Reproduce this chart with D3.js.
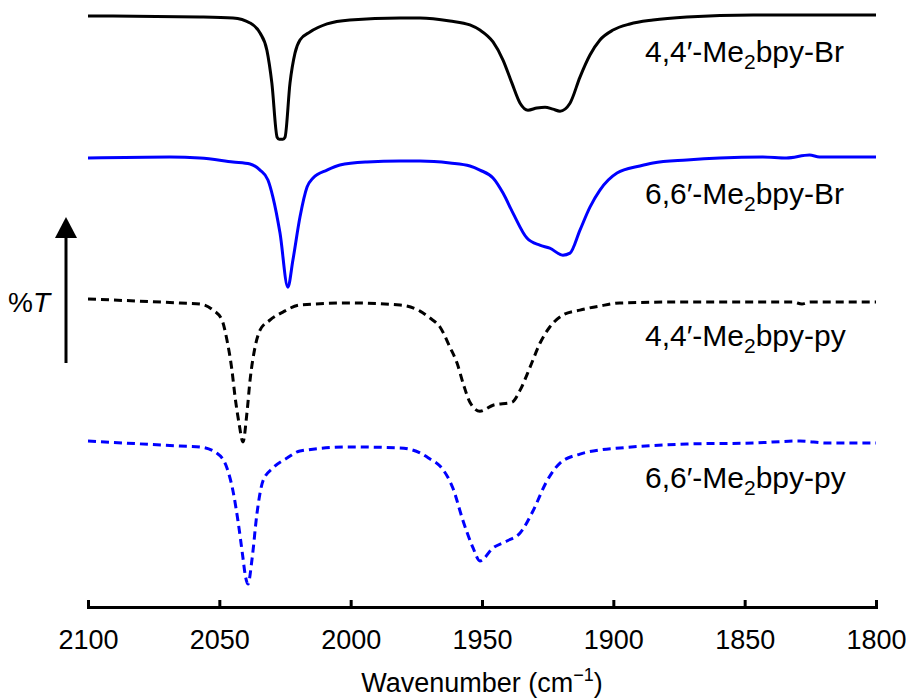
<!DOCTYPE html>
<html>
<head>
<meta charset="utf-8">
<script src="https://cdn.jsdelivr.net/npm/d3@7"></script>
<style>
  body { margin: 0; background: #fff; }
  svg text { font-family: "Liberation Sans", Arial, sans-serif; fill: #000; }
</style>
</head>
<body>
<svg id="chart" width="906" height="698"></svg>
<script>
// wavenumber (cm-1) and relative %T, one pair of arrays per trace
const wnMe44Br = [2100, 2057.4, 2044.8, 2038.3, 2034.5, 2031.9, 2030.0, 2028.0, 2027.2, 2025.8, 2025.0, 2023.1, 2021.2, 2019.3, 2015.5, 2009.0, 2000.3, 1981.2, 1973.6, 1962.2, 1954.6, 1950.8, 1945.8, 1942.0, 1938.6, 1935.5, 1932.5, 1929.1, 1926.0, 1923.0, 1920.3, 1916.5, 1912.7, 1908.9, 1905.1, 1900.1, 1893.7, 1884.9, 1872.0, 1846.8, 1800]
const tMe44Br = [100, 99.3, 98.6, 95.1, 88.0, 76.0, 52.7, 14.6, 13.2, 13.2, 14.6, 52.7, 73.9, 83.1, 88.7, 94.4, 97.2, 98.6, 98.6, 96.5, 93.7, 90.1, 81.7, 69.0, 52.7, 38.6, 33.7, 35.2, 35.8, 34.4, 33.0, 38.6, 57.0, 72.5, 83.1, 90.1, 94.4, 97.2, 99.3, 100.7, 100.7]

const wnMe66Br = [2100, 2068.8, 2057.4, 2044.8, 2038.3, 2034.5, 2031.5, 2029.6, 2026.9, 2023.9, 2022.0, 2019.3, 2016.6, 2014.3, 2009.0, 2004.1, 1993.8, 1981.2, 1973.6, 1962.2, 1954.6, 1950.8, 1945.8, 1942.0, 1938.2, 1932.9, 1928.0, 1924.2, 1919.2, 1916.5, 1912.7, 1908.9, 1905.1, 1898.6, 1889.9, 1884.9, 1872.0, 1859.5, 1843.1, 1834.1, 1825.3, 1821.5, 1800]
const tMe66Br = [100, 100.7, 100, 97.2, 95.8, 91.5, 84.5, 72.5, 47.1, 9.0, 28.0, 58.4, 79.5, 85.9, 91.5, 95.1, 97.2, 97.9, 97.9, 96.5, 94.4, 91.5, 85.9, 75.3, 61.2, 43.6, 38.6, 36.5, 31.6, 33.0, 49.2, 65.4, 77.4, 89.4, 94.4, 96.5, 98.6, 100, 100.7, 100, 102.1, 100.7, 100.7]

const wnMe44py = [2100, 2065.0, 2057.4, 2052.4, 2049.0, 2047.1, 2045.2, 2044.0, 2042.5, 2041.0, 2039.5, 2038.3, 2036.4, 2034.5, 2030.7, 2025.8, 2019.3, 2000.3, 1981.2, 1973.6, 1969.8, 1966.0, 1962.2, 1959.5, 1957.2, 1954.6, 1950.8, 1945.8, 1938.6, 1935.5, 1931.7, 1927.9, 1924.2, 1919.2, 1912.7, 1905.1, 1897.5, 1872.0, 1846.8, 1831.6, 1828.2, 1825.1, 1800]
const tMe44py = [100.7, 97.9, 97.2, 92.9, 85.9, 71.8, 50.6, 31.6, 13.2, 0, 20.3, 43.6, 66.8, 78.8, 85.9, 91.5, 96.5, 97.9, 96.5, 92.2, 87.3, 81.0, 66.8, 55.6, 41.4, 28.0, 21.7, 25.9, 28.0, 36.5, 52.7, 69.7, 81.0, 89.4, 92.9, 95.8, 97.9, 98.6, 98.6, 98.6, 97.2, 98.6, 98.6]

const wnMe66py = [2100, 2065.0, 2057.4, 2051.0, 2047.1, 2044.8, 2042.9, 2041.0, 2040.2, 2039.1, 2037.5, 2035.7, 2033.4, 2029.6, 2024.2, 2019.3, 2000.3, 1981.2, 1973.6, 1969.8, 1966.0, 1961.1, 1957.2, 1953.4, 1950.8, 1945.8, 1940.5, 1935.5, 1930.6, 1925.3, 1920.3, 1912.7, 1905.1, 1897.5, 1872.0, 1846.8, 1828.9, 1818.6, 1800]
const tMe66py = [100.7, 97.2, 96.5, 92.3, 81.7, 65.5, 44.4, 18.3, 7.0, 0, 18.3, 49.3, 72.5, 81.7, 88.7, 93.7, 96.5, 95.8, 92.3, 88.0, 83.1, 67.6, 44.4, 25.4, 16.2, 25.4, 30.3, 35.9, 51.4, 72.5, 85.2, 91.5, 94.4, 95.8, 98.6, 99.3, 100.7, 99.3, 99.3]

const traceNames = ["4,4′-Me|2|bpy-Br", "6,6′-Me|2|bpy-Br", "4,4′-Me|2|bpy-py", "6,6′-Me|2|bpy-py"]
const traceOffsets = [300, 200, 100, 0]
const traceColors = ["#000000", "#0000ff", "#000000", "#0000ff"]
const traceDashed = [false, false, true, true]
const xTicks = [2100, 2050, 2000, 1950, 1900, 1850, 1800]

const traces = [
  { wn: wnMe44Br, t: tMe44Br },
  { wn: wnMe66Br, t: tMe66Br },
  { wn: wnMe44py, t: tMe44py },
  { wn: wnMe66py, t: tMe66py },
].map((s, i) => ({
  name: traceNames[i],
  offset: traceOffsets[i],
  color: traceColors[i],
  dashed: traceDashed[i],
  points: s.wn.map((w, j) => ({ wn: w, t: s.t[j] })),
}))

const svg = d3.select("#chart")
const AXIS_Y = 607

const x = d3.scaleLinear().domain([2100, 1800]).range([88, 876])
const y = d3.scaleLinear().domain([0, 400]).range([584, 16])

const line = d3.line()
  .x(d => x(d.wn))
  .curve(d3.curveMonotoneX)

traces.forEach(tr => {
  svg.append("path")
    .datum(tr.points)
    .attr("fill", "none")
    .attr("stroke", tr.color)
    .attr("stroke-width", 3)
    .attr("stroke-linejoin", "round")
    .attr("stroke-dasharray", tr.dashed ? "8,5" : null)
    .attr("d", line.y(d => y(d.t + tr.offset)))

  // label sits under the baseline on the right; "|" marks the subscript part
  const parts = tr.name.split("|")
  const label = svg.append("text")
    .attr("x", 645)
    .attr("y", y(tr.offset + 100) + 46)
    .style("font-size", "30px")
  label.append("tspan").text(parts[0])
  label.append("tspan").attr("dy", 7).style("font-size", "21px").text(parts[1])
  label.append("tspan").attr("dy", -7).text(parts[2])
})

// x axis, ticks pointing up
const xAxis = svg.append("g")
  .attr("transform", `translate(0,${AXIS_Y})`)
  .call(d3.axisBottom(x)
    .tickValues(xTicks)
    .tickFormat(d3.format("d"))
    .tickSizeInner(-7)
    .tickSizeOuter(0)
    .tickPadding(23))

xAxis.select(".domain").attr("stroke-width", 3).attr("stroke-linecap", "square")
xAxis.selectAll(".tick line").attr("stroke-width", 3)
xAxis.selectAll(".tick text")
  .style("font-size", "27px")
  .style("font-family", "'Liberation Sans', Arial, sans-serif")

const title = svg.append("text")
  .attr("x", 482)
  .attr("y", 692)
  .attr("text-anchor", "middle")
  .style("font-size", "27px")
title.append("tspan").text("Wavenumber (cm")
title.append("tspan").attr("dy", -11).style("font-size", "18px").text("−1")
title.append("tspan").attr("dy", 11).text(")")

// %T arrow
svg.append("line")
  .attr("x1", 66).attr("x2", 66)
  .attr("y1", 363).attr("y2", 235)
  .attr("stroke", "#000")
  .attr("stroke-width", 3)
svg.append("path")
  .attr("d", "M66,217 L55,238 L77,238 Z")
  .attr("fill", "#000")

const yLabel = svg.append("text")
  .attr("x", 50)
  .attr("y", 312)
  .attr("text-anchor", "end")
  .style("font-size", "28px")
yLabel.append("tspan").text("%")
yLabel.append("tspan").style("font-style", "italic").text("T")
</script>
</body>
</html>
